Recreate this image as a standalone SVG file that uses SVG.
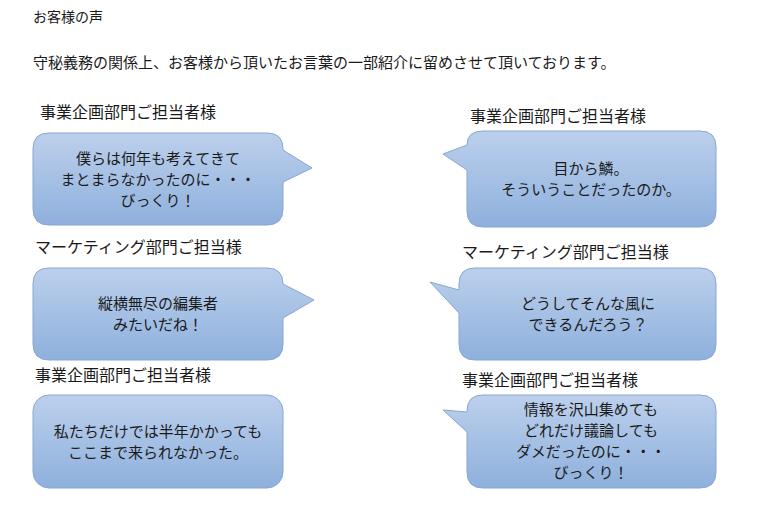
<svg xmlns="http://www.w3.org/2000/svg" width="764" height="509" viewBox="0 0 764 509">
<defs>
<linearGradient id="g" x1="0" y1="0" x2="0" y2="1"><stop offset="0" stop-color="#bcd0ec"/><stop offset="1" stop-color="#8eb0dd"/></linearGradient>
<style>
.b{fill:url(#g);stroke:#87a6d4;stroke-width:1}
text{font-family:"Noto Sans CJK JP","Noto Sans",sans-serif;fill:#1a1a1a}
.h{font-size:16px}
.t{font-size:15px;text-anchor:middle}
</style>
</defs>
<rect width="764" height="509" fill="#fff"/>
<text x="33" y="22" style="font-size:14px">お客様の声</text>
<text x="33" y="68" style="font-size:15px">守秘義務の関係上、お客様から頂いたお言葉の一部紹介に留めさせて頂いております。</text>
<g id="n1"><text class="h" x="40" y="118">事業企画部門ご担当者様</text>
<path class="b" d="M49,133 H267 Q283,133 283,149 V150 L312,168 L283,182 V209 Q283,225 267,225 H49 Q33,225 33,209 V149 Q33,133 49,133 Z"/>
<text class="t" x="158" y="164">僕らは何年も考えてきて</text><text class="t" x="158" y="185">まとまらなかったのに・・・</text><text class="t" x="158" y="206">びっくり！</text></g>
<g id="n2"><text class="h" x="470" y="122">事業企画部門ご担当者様</text>
<path class="b" d="M483,131 H700 Q716,131 716,147 V211 Q716,227 700,227 H483 Q467,227 467,211 V170 L443,154 L467,145 Q467,131 483,131 Z"/>
<text class="t" x="591" y="174">目から鱗。</text><text class="t" x="591" y="195">そういうことだったのか。</text></g>
<g id="n3"><text class="h" x="35" y="253">マーケティング部門ご担当様</text>
<path class="b" d="M49,268 H267 Q283,268 283,284 L314,300 L283,318 V344 Q283,360 267,360 H49 Q33,360 33,344 V284 Q33,268 49,268 Z"/>
<text class="t" x="158" y="309">縦横無尽の編集者</text><text class="t" x="158" y="330">みたいだね！</text></g>
<g id="n4"><text class="h" x="462" y="258">マーケティング部門ご担当様</text>
<path class="b" d="M475,268 H700 Q716,268 716,284 V344 Q716,360 700,360 H475 Q459,360 459,344 V313 L430,282 L459,290 V284 Q459,268 475,268 Z"/>
<text class="t" x="588" y="309">どうしてそんな風に</text><text class="t" x="588" y="330">できるんだろう？</text></g>
<g id="n5"><text class="h" x="35" y="381">事業企画部門ご担当者様</text>
<rect class="b" x="33" y="395" width="250" height="93" rx="16"/>
<text class="t" x="158" y="437">私たちだけでは半年かかっても</text><text class="t" x="158" y="458">ここまで来られなかった。</text></g>
<g id="n6"><text class="h" x="462" y="386">事業企画部門ご担当者様</text>
<path class="b" d="M483,395 H700 Q716,395 716,411 V472 Q716,488 700,488 H483 Q467,488 467,472 V432 L443,410 L467,412 V411 Q467,395 483,395 Z"/>
<text class="t" x="591" y="415">情報を沢山集めても</text><text class="t" x="591" y="436">どれだけ議論しても</text><text class="t" x="591" y="457">ダメだったのに・・・</text><text class="t" x="591" y="478">びっくり！</text></g>
<g id="connectors"/>
</svg>
